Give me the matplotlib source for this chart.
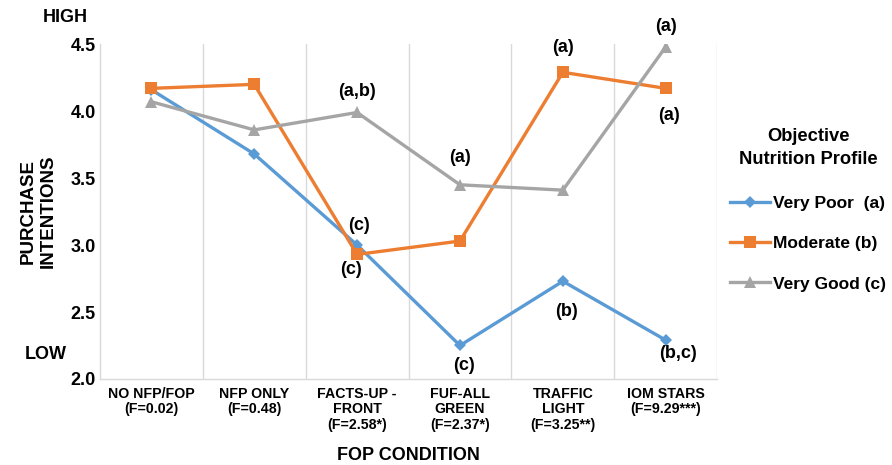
import numpy as np
import matplotlib

matplotlib.use("Agg")
import matplotlib.pyplot as plt

plt.rcParams["font.family"] = ["Liberation Sans", "DejaVu Sans"]
plt.rcParams["font.weight"] = "bold"

CONDITIONS = [
    "NO NFP/FOP\n(F=0.02)",
    "NFP ONLY\n(F=0.48)",
    "FACTS-UP -\nFRONT\n(F=2.58*)",
    "FUF-ALL\nGREEN\n(F=2.37*)",
    "TRAFFIC\nLIGHT\n(F=3.25**)",
    "IOM STARS\n(F=9.29***)",
]

very_poor = [4.16, 3.68, 3.00, 2.25, 2.73, 2.29]
moderate = [4.17, 4.20, 2.93, 3.03, 4.29, 4.17]
very_good = [4.07, 3.86, 3.99, 3.45, 3.41, 4.48]

SERIES = [
    ("Very Poor  (a)", very_poor, "#5B9BD5", "D", 6),
    ("Moderate (b)", moderate, "#ED7D31", "s", 8),
    ("Very Good (c)", very_good, "#A5A5A5", "^", 8),
]

# significance letters: (series index, category index, text, dx px, dy px)
LETTERS = [
    (2, 2, "(a,b)", 0, 21),
    (0, 2, "(c)", 2, 20),
    (1, 2, "(c)", -6, -15),
    (2, 3, "(a)", 0, 27),
    (0, 3, "(c)", 4, -20),
    (1, 4, "(a)", 0, 25),
    (0, 4, "(b)", 4, -30),
    (2, 5, "(a)", 0, 20),
    (1, 5, "(a)", 3, -27),
    (0, 5, "(b,c)", 12, -13),
]

fig = plt.figure(figsize=(8.92, 4.65), dpi=100)
ax = fig.add_axes([0.112, 0.185, 0.692, 0.72])

x = np.arange(len(CONDITIONS))
for label, vals, color, marker, ms in SERIES:
    ax.plot(x, vals, color=color, lw=2.4, marker=marker, ms=ms,
            markeredgewidth=0, label=label, zorder=3)

for si, ci, txt, dx, dy in LETTERS:
    ax.annotate(txt, xy=(x[ci], SERIES[si][1][ci]), xytext=(dx, dy),
                textcoords="offset pixels", ha="center", va="center",
                fontsize=13, fontweight="bold", color="black")

ax.set_xlim(-0.5, len(CONDITIONS) - 0.5)
ax.set_ylim(2.0, 4.5)
yt = [2.0, 2.5, 3.0, 3.5, 4.0, 4.5]
ax.set_yticks(yt)
ax.set_yticklabels([f"{v:.1f}" for v in yt], fontsize=13, fontweight="bold")
ax.set_xticks(x)
ax.set_xticklabels(CONDITIONS, fontsize=10.2, fontweight="bold", va="top",
                   linespacing=1.1)
ax.tick_params(axis="y", length=0, pad=3)
ax.tick_params(axis="x", length=0, pad=6)
for xb in np.arange(0.5, len(CONDITIONS), 1.0):
    ax.axvline(xb, color="#d9d9d9", lw=1.0, zorder=1)
for side in ("top", "right"):
    ax.spines[side].set_visible(False)
for side in ("left", "bottom"):
    ax.spines[side].set_color("#d9d9d9")
    ax.spines[side].set_linewidth(1.0)

ax.set_ylabel("PURCHASE\nINTENTIONS", fontsize=13.5, fontweight="bold",
              labelpad=10, linespacing=1.2)
ax.set_xlabel("FOP CONDITION", fontsize=13, fontweight="bold", labelpad=11)

fig.text(0.073, 0.962, "HIGH", fontsize=13, fontweight="bold",
         ha="center", va="center")
fig.text(0.051, 0.237, "LOW", fontsize=13, fontweight="bold",
         ha="center", va="center")

leg = ax.legend(loc="upper left", bbox_to_anchor=(1.01, 0.77), frameon=False,
                title="Objective\nNutrition Profile", handlelength=2.3,
                handletextpad=0.15, labelspacing=1.45, borderaxespad=0.0,
                prop={"size": 12.5, "weight": "bold"},
                title_fontproperties={"size": 13.2, "weight": "bold"})
leg._legend_box.align = "center"
leg._legend_box.sep = 20
leg.get_title().set_multialignment("center")
leg.get_title().set_linespacing(1.45)

fig.savefig("out.png", dpi=100, facecolor="white")
